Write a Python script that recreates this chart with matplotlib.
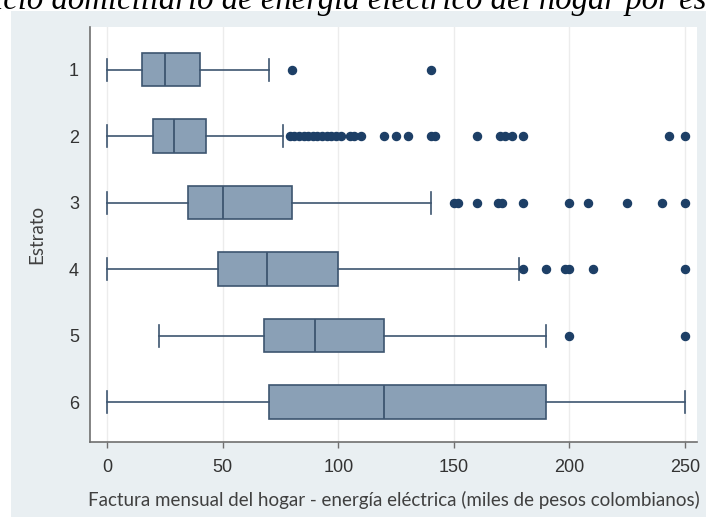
import matplotlib
matplotlib.use("Agg")
import matplotlib.pyplot as plt
from matplotlib.patches import Rectangle

# ---- data ----
estratos = ["1", "2", "3", "4", "5", "6"]
whis_lo = [0, 0, 0, 0, 22.5, 0]
q1 = [15, 20, 35, 48, 68, 70]
medians = [25, 29, 50, 69, 90, 120]
q3 = [40, 43, 80, 100, 120, 190]
whis_hi = [70, 76, 140, 178, 190, 250]
fliers_1 = [80, 140]
fliers_2 = [79, 81, 83, 85, 87, 89, 91, 93, 95, 97, 99, 101, 105, 107, 110,
            120, 125, 130, 140, 142, 160, 170, 172, 175, 180, 243, 250]
fliers_3 = [150, 152, 160, 169, 171, 180, 200, 208, 225, 240, 250]
fliers_4 = [180, 190, 198, 200, 210, 250]
fliers_5 = [200, 250]
fliers_6 = []
fliers = [fliers_1, fliers_2, fliers_3, fliers_4, fliers_5, fliers_6]
x_ticks = [0, 50, 100, 150, 200, 250]

title = "Servicio domiciliario de energía eléctrico del hogar por estrato"
xlabel = "Factura mensual del hogar - energía eléctrica (miles de pesos colombianos)"
ylabel = "Estrato"

# ---- styling ----
BG = "#e9eff2"
FILL = "#8aa0b6"
EDGE = "#3d5570"
DOT = "#1d3f66"
SPINE = "#6f6f6f"

W, H = 706, 517
fig = plt.figure(figsize=(W / 100, H / 100), dpi=100)
fig.patch.set_facecolor("white")
fig.patches.append(Rectangle((11 / W, 0), 1 - 11 / W, 1 - 11 / H,
                             transform=fig.transFigure, facecolor=BG,
                             edgecolor="none", zorder=-5))

ax = fig.add_axes([90 / W, 1 - 442 / H, (697 - 90) / W, (442 - 27) / H])
ax.set_zorder(2)
ax.set_facecolor("white")

stats = []
for i, lab in enumerate(estratos):
    stats.append(dict(label=lab, whislo=whis_lo[i], q1=q1[i], med=medians[i],
                      q3=q3[i], whishi=whis_hi[i], fliers=fliers[i]))

positions = list(range(1, len(estratos) + 1))
ax.bxp(stats, positions=positions, vert=False, widths=0.5, patch_artist=True,
       capwidths=[0.33] * len(estratos),
       boxprops=dict(facecolor=FILL, edgecolor=EDGE, linewidth=1.2),
       medianprops=dict(color=EDGE, linewidth=1.3),
       whiskerprops=dict(color=EDGE, linewidth=1.2),
       capprops=dict(color=EDGE, linewidth=1.2),
       flierprops=dict(marker="o", markerfacecolor=DOT, markeredgecolor=DOT,
                       markersize=5.8, linestyle="none"),
       zorder=3)

ax.set_xlim(-7.4, 255.2)
ax.set_ylim(6.6, 0.36)
ax.set_xticks(x_ticks)
ax.set_xticklabels([str(t) for t in x_ticks], fontfamily="Liberation Sans",
                   fontsize=13, color="#333333")
ax.set_yticks(positions)
ax.set_yticklabels(estratos, fontfamily="Liberation Sans", fontsize=13,
                   color="#333333")
ax.tick_params(axis="x", length=4, width=1, color=SPINE, pad=8)
ax.tick_params(axis="y", length=0, pad=8)

ax.grid(axis="x", color="#ececec", linewidth=1, zorder=0)
ax.set_axisbelow(True)
for s in ["top", "right"]:
    ax.spines[s].set_visible(False)
for s in ["left", "bottom"]:
    ax.spines[s].set_color(SPINE)
    ax.spines[s].set_linewidth(1.2)

ax.set_xlabel(xlabel, fontfamily="Lato", fontsize=13.5, color="#404040",
              labelpad=11)
ax.set_ylabel(ylabel, fontfamily="Lato", fontsize=13.5, color="#404040",
              labelpad=17)

fig.text(0.5, 1 - 9 / H, title, ha="center", va="baseline",
         fontfamily="Liberation Serif", fontstyle="italic", fontsize=23.6,
         color="black", zorder=5)

fig.savefig("out.png", dpi=100, facecolor=fig.get_facecolor())
